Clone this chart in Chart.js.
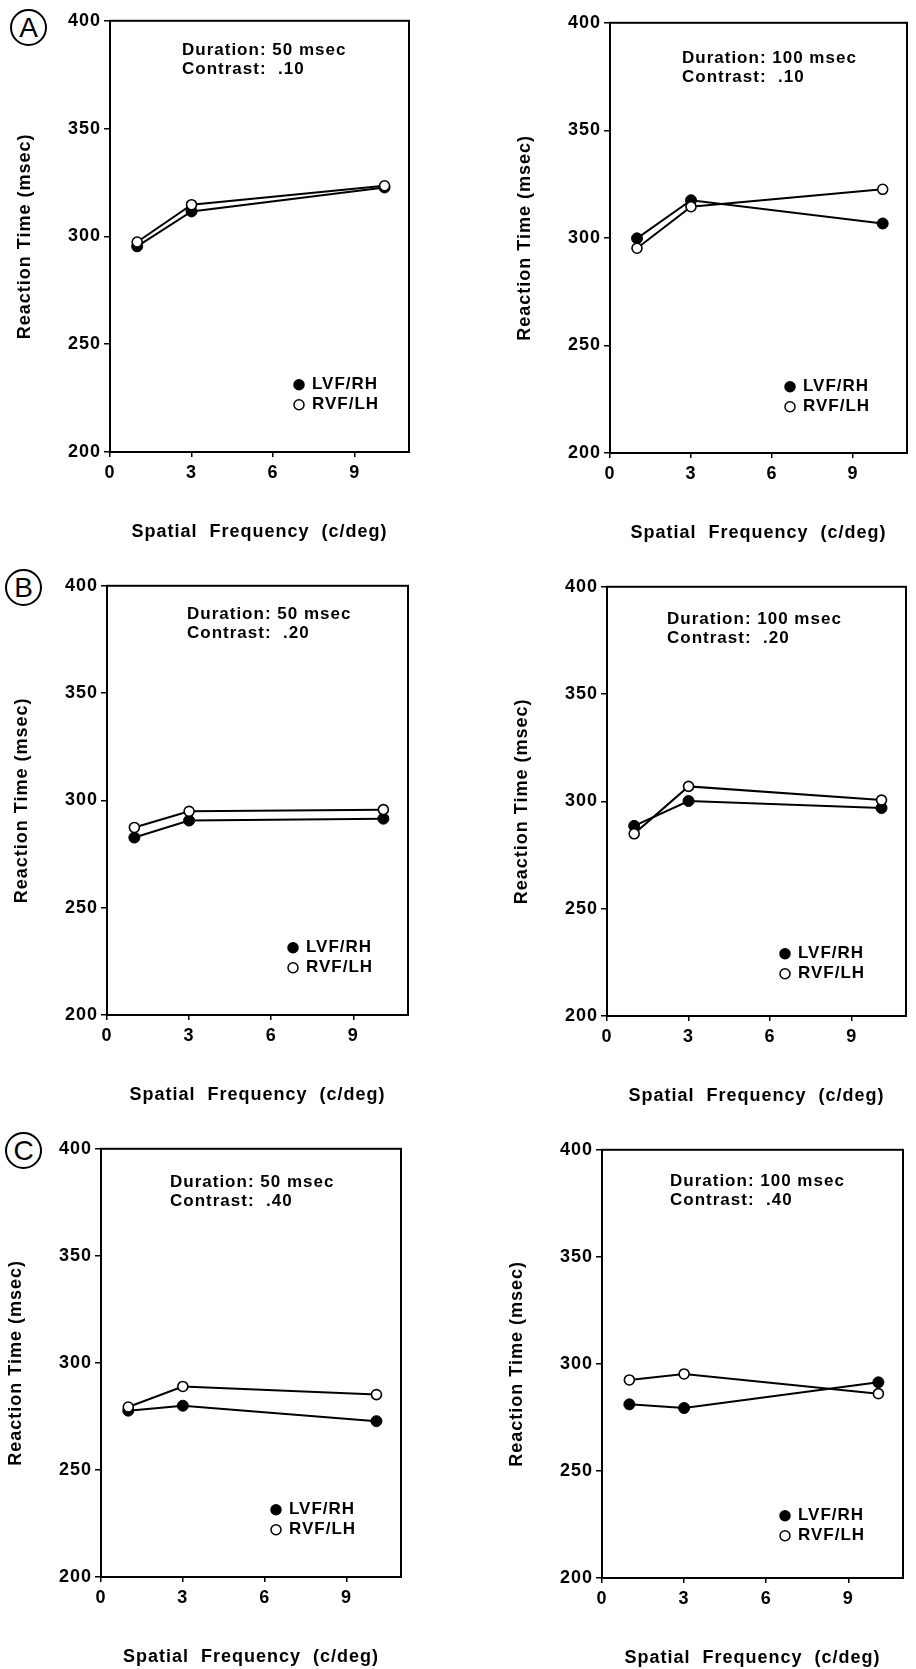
<!DOCTYPE html>
<html>
<head>
<meta charset="utf-8">
<title>Reaction time by spatial frequency</title>
<script src="https://cdn.jsdelivr.net/npm/chart.js@4.4.1/dist/chart.umd.min.js"></script>
<style>
  html, body { margin: 0; padding: 0; background: #fff; }
  #page { position: relative; width: 916px; height: 1669px; overflow: hidden; }
  #page canvas { position: absolute; }
  .tag { position: absolute; width: 33px; height: 33px; border: 2px solid #000; border-radius: 50%;
         font: 28px "Liberation Sans", Arial, sans-serif; line-height: 34px; text-align: center; color: #000; }
</style>
</head>
<body>
<div id="page">
  <div class="tag" style="left:10px;top:9px">A</div>
  <div class="tag" style="left:5px;top:569px">B</div>
  <div class="tag" style="left:5px;top:1132px">C</div>
</div>
<script>
// données
const freqs = [1, 3, 10.1];               // fréquence spatiale (c/deg)
const seriesLabels = ["LVF/RH", "RVF/LH"];
const durations = [50, 100];              // msec
const contrasts = [".10", ".20", ".40"];
const yTicks = [200, 250, 300, 350, 400];
const xTicks = [0, 3, 6, 9];

// temps de réaction (msec)
const lvf50_10 = [295.4, 311.6, 322.7];
const rvf50_10 = [297.4, 314.7, 323.5];
const lvf100_10 = [299.8, 317.5, 306.7];
const rvf100_10 = [295.2, 314.5, 322.6];
const lvf50_20 = [282.7, 290.6, 291.5];
const rvf50_20 = [287.4, 294.9, 295.7];
const lvf100_20 = [288.6, 300.2, 296.9];
const rvf100_20 = [284.9, 307.0, 300.6];
const lvf50_40 = [277.7, 280.0, 272.8];
const rvf50_40 = [279.4, 289.0, 285.2];
const lvf100_40 = [281.1, 279.4, 291.4];
const rvf100_40 = [292.5, 295.3, 286.1];

const panels = [
    { lvf: lvf50_10, rvf: rvf50_10, dur: 0, con: 0 },
    { lvf: lvf100_10, rvf: rvf100_10, dur: 1, con: 0 },
    { lvf: lvf50_20, rvf: rvf50_20, dur: 0, con: 1 },
    { lvf: lvf100_20, rvf: rvf100_20, dur: 1, con: 1 },
    { lvf: lvf50_40, rvf: rvf50_40, dur: 0, con: 2 },
    { lvf: lvf100_40, rvf: rvf100_40, dur: 1, con: 2 },
];

// position de la zone de tracé sur la page + décalages du texte
const layout = [
    { L: 110, T: 19, R: 409, B: 452, ax: 72, ay: 30, lx: 189, ly: 364 },
    { L: 610, T: 21, R: 907, B: 453, ax: 72, ay: 36, lx: 180, ly: 364 },
    { L: 107, T: 584, R: 408, B: 1015, ax: 80, ay: 29, lx: 186, ly: 362 },
    { L: 607, T: 585, R: 906, B: 1016, ax: 60, ay: 33, lx: 178, ly: 367 },
    { L: 101, T: 1147, R: 401, B: 1577, ax: 69, ay: 34, lx: 175, ly: 361 },
    { L: 602, T: 1148, R: 903, B: 1578, ax: 68, ay: 32, lx: 183, ly: 366 },
];

const FONT = "'Liberation Sans', Arial, Helvetica, sans-serif";
const AXIS_W = 100, AXIS_H = 100, PAD_TOP = 12, PAD_RIGHT = 8;

// espacement des lettres, comme sur la figure imprimée
const spacingPlugin = {
    id: "spacing",
    beforeDraw(chart) {
        chart.ctx.letterSpacing = "1px";
    },
};

// cadre complet + texte de condition + légende dans la zone de tracé
const panelPlugin = {
    id: "panelText",
    afterDatasetsDraw(chart, args, opts) {
        const ctx = chart.ctx;
        const a = chart.chartArea;
        ctx.save();
        ctx.strokeStyle = "#000";
        ctx.lineWidth = 2;
        ctx.strokeRect(a.left, a.top, a.right - a.left, a.bottom - a.top);

        ctx.fillStyle = "#000";
        ctx.font = "bold 17px " + FONT;
        ctx.textAlign = "left";
        ctx.textBaseline = "middle";
        opts.lines.forEach((txt, i) => {
            ctx.fillText(txt, a.left + opts.ax, a.top + opts.ay + i * 19);
        });

        chart.data.datasets.forEach((ds, i) => {
            const x = a.left + opts.lx;
            const y = a.top + opts.ly + i * 20;
            ctx.beginPath();
            ctx.arc(x, y, 5, 0, Math.PI * 2);
            ctx.fillStyle = ds.pointBackgroundColor;
            ctx.fill();
            ctx.lineWidth = 1.5;
            ctx.strokeStyle = "#000";
            ctx.stroke();
            ctx.fillStyle = "#000";
            ctx.fillText(ds.label, x + 13, y);
        });
        ctx.restore();
    },
};

const page = document.getElementById("page");

panels.forEach((p, k) => {
    const box = layout[k];
    const w = box.R - box.L + AXIS_W + PAD_RIGHT;
    const h = box.B - box.T + PAD_TOP + AXIS_H;
    const cv = document.createElement("canvas");
    cv.width = w;
    cv.height = h;
    cv.style.width = w + "px";
    cv.style.height = h + "px";
    cv.style.left = box.L - AXIS_W + "px";
    cv.style.top = box.T - PAD_TOP + "px";
    page.appendChild(cv);

    new Chart(cv.getContext("2d"), {
        type: "line",
        data: {
            datasets: [
                {
                    label: seriesLabels[0],
                    data: freqs.map((f, i) => ({ x: f, y: p.lvf[i] })),
                    borderColor: "#000",
                    borderWidth: 2,
                    pointRadius: 5.5,
                    pointBackgroundColor: "#000",
                    pointBorderColor: "#000",
                    pointBorderWidth: 1,
                    tension: 0,
                    order: 1,
                },
                {
                    label: seriesLabels[1],
                    data: freqs.map((f, i) => ({ x: f, y: p.rvf[i] })),
                    borderColor: "#000",
                    borderWidth: 2,
                    pointRadius: 5,
                    pointBackgroundColor: "#fff",
                    pointBorderColor: "#000",
                    pointBorderWidth: 1.6,
                    tension: 0,
                    order: 0,
                },
            ],
        },
        options: {
            responsive: false,
            animation: false,
            events: [],
            layout: { padding: { top: PAD_TOP, right: PAD_RIGHT, left: 0, bottom: 0 } },
            scales: {
                x: {
                    type: "linear",
                    min: 0,
                    max: 11,
                    afterFit: (s) => { s.height = AXIS_H; },
                    afterBuildTicks: (s) => { s.ticks = xTicks.map((v) => ({ value: v })); },
                    ticks: {
                        includeBounds: false,
                        padding: 5,
                        color: "#000",
                        font: { family: FONT, size: 18, weight: "bold" },
                    },
                    grid: { drawOnChartArea: false, drawTicks: true, tickLength: 5, color: "#000", lineWidth: 1.5 },
                    border: { display: true, color: "#000", width: 2 },
                    title: {
                        display: true,
                        text: "Spatial  Frequency  (c/deg)",
                        color: "#000",
                        padding: { top: 0, bottom: 9 },
                        font: { family: FONT, size: 18, weight: "bold" },
                    },
                },
                y: {
                    min: 200,
                    max: 400,
                    afterFit: (s) => { s.width = AXIS_W; },
                    afterBuildTicks: (s) => { s.ticks = yTicks.map((v) => ({ value: v })); },
                    ticks: {
                        padding: 3,
                        color: "#000",
                        font: { family: FONT, size: 18, weight: "bold" },
                    },
                    grid: { drawOnChartArea: false, drawTicks: true, tickLength: 6, color: "#000", lineWidth: 1.5 },
                    border: { display: true, color: "#000", width: 2 },
                    title: {
                        display: true,
                        text: "Reaction Time (msec)",
                        color: "#000",
                        padding: { top: 4, bottom: 0 },
                        font: { family: FONT, size: 18, weight: "bold" },
                    },
                },
            },
            plugins: {
                legend: { display: false },
                tooltip: { enabled: false },
                panelText: {
                    lines: [
                        "Duration: " + durations[p.dur] + " msec",
                        "Contrast:  " + contrasts[p.con],
                    ],
                    ax: box.ax, ay: box.ay, lx: box.lx, ly: box.ly,
                },
            },
        },
        plugins: [spacingPlugin, panelPlugin],
    });
});
</script>
</body>
</html>
